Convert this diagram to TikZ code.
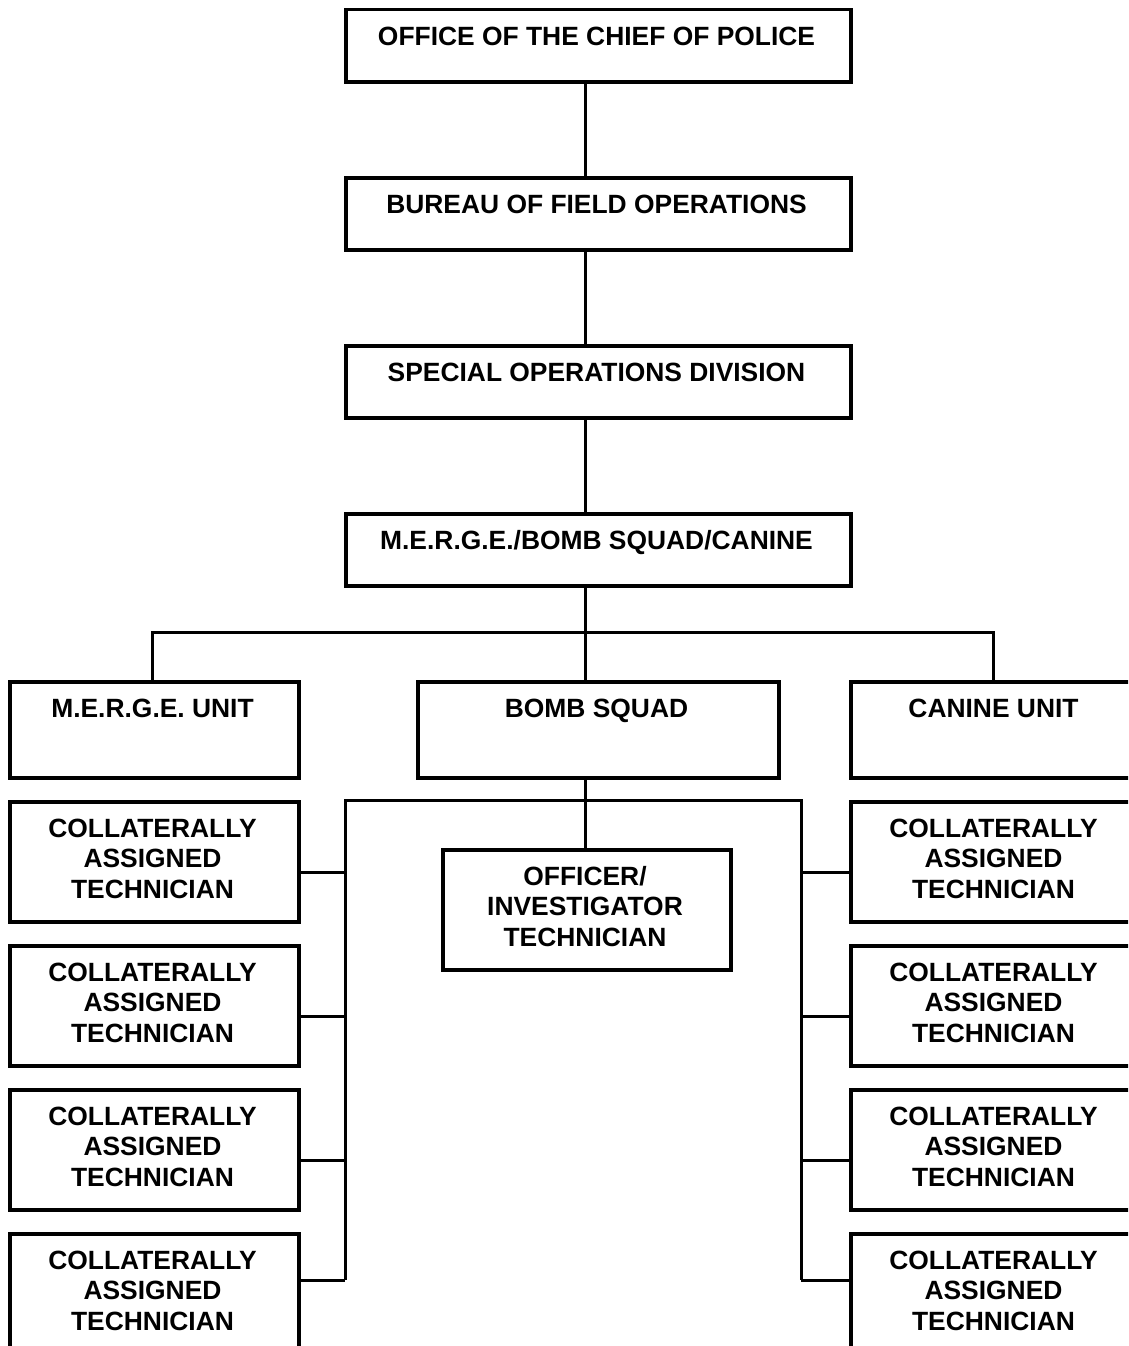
\documentclass[tikz,border=0pt]{standalone}
\usepackage{fontspec}
\setmainfont{Liberation Sans}
\begin{document}
\begin{tikzpicture}[x=1pt,y=-1pt,
  box/.style={draw=black, line width=3.5pt, rectangle, inner sep=0pt, anchor=north west},
  txt/.style={font=\fontsize{26.4}{30.5}\selectfont\bfseries, align=center, anchor=center, inner sep=0pt},
  one/.style={txt, text height=19pt, text depth=0pt},
  conn/.style={draw=black, line width=3pt}]
\useasboundingbox (0,0) rectangle (1128,1346);
\clip (0,0) rectangle (1128,1346);
% top chain
\node[box, minimum width=505pt, minimum height=72pt] (chief) at (344,8) {};
\node[one] (chiefT) at (596.5,36) {OFFICE OF THE CHIEF OF POLICE};
\node[box, minimum width=505pt, minimum height=72pt] (bureau) at (344,176) {};
\node[one] (bureauT) at (596.5,204) {BUREAU OF FIELD OPERATIONS};
\node[box, minimum width=505pt, minimum height=72pt] (special) at (344,344) {};
\node[one] (specialT) at (596.5,372) {SPECIAL OPERATIONS DIVISION};
\node[box, minimum width=505pt, minimum height=72pt] (merge) at (344,512) {};
\node[one] (mergeT) at (596.5,540) {M.E.R.G.E./BOMB SQUAD/CANINE};
% units
\node[box, minimum width=289pt, minimum height=96pt] (mu) at (8,680) {};
\node[one] (muT) at (152.5,708) {M.E.R.G.E. UNIT};
\node[box, minimum width=361pt, minimum height=96pt] (bs) at (416,680) {};
\node[one] (bsT) at (596.5,708) {BOMB SQUAD};
\node[box, minimum width=289pt, minimum height=96pt] (cu) at (849,680) {};
\node[one] (cuT) at (993.5,708) {CANINE UNIT};
% officer
\node[box, minimum width=288pt, minimum height=120pt] (off) at (441,848) {};
\node[txt] (offT) at (585,906.5) {OFFICER/\\INVESTIGATOR\\TECHNICIAN};
% collateral boxes
\foreach \i/\y in {1/800,2/944,3/1088,4/1232}{
  \node[box, minimum width=289pt, minimum height=120pt] (L\i) at (8,\y) {};
  \node[txt] (L\i T) at (152.5,\y+58.5) {COLLATERALLY\\ASSIGNED\\TECHNICIAN};
  \node[box, minimum width=289pt, minimum height=120pt] (R\i) at (849,\y) {};
  \node[txt] (R\i T) at (993.5,\y+58.5) {COLLATERALLY\\ASSIGNED\\TECHNICIAN};
}
% connectors
\coordinate (mid) at (585,0);
\draw[conn] (chief.south -| mid) -- (bureau.north -| mid);
\draw[conn] (bureau.south -| mid) -- (special.north -| mid);
\draw[conn] (special.south -| mid) -- (merge.north -| mid);
\coordinate (barY) at (0,632);
\draw[conn] (merge.south -| mid) -- (bs.north -| mid);
\draw[conn] (mu.north -| muT) -- (barY -| muT) -- (barY -| cuT) -- (cu.north -| cuT);
\coordinate (bar2) at (0,800);
\coordinate (lv) at (345,0);
\coordinate (rv) at (801,0);
\coordinate (lend) at (345,1280);
\coordinate (rend) at (801,1280);
\draw[conn] (bs.south -| mid) -- (off.north -| mid);
\draw[conn] (lend) -- (bar2 -| lv) -- (bar2 -| rv) -- (rend);
\foreach \i/\y in {1/872,2/1016,3/1160,4/1280}{
  \draw[conn] (L\i.east |- 0,\y) -- (345,\y);
  \draw[conn] (R\i.west |- 0,\y) -- (801,\y);
}
\end{tikzpicture}
\end{document}
